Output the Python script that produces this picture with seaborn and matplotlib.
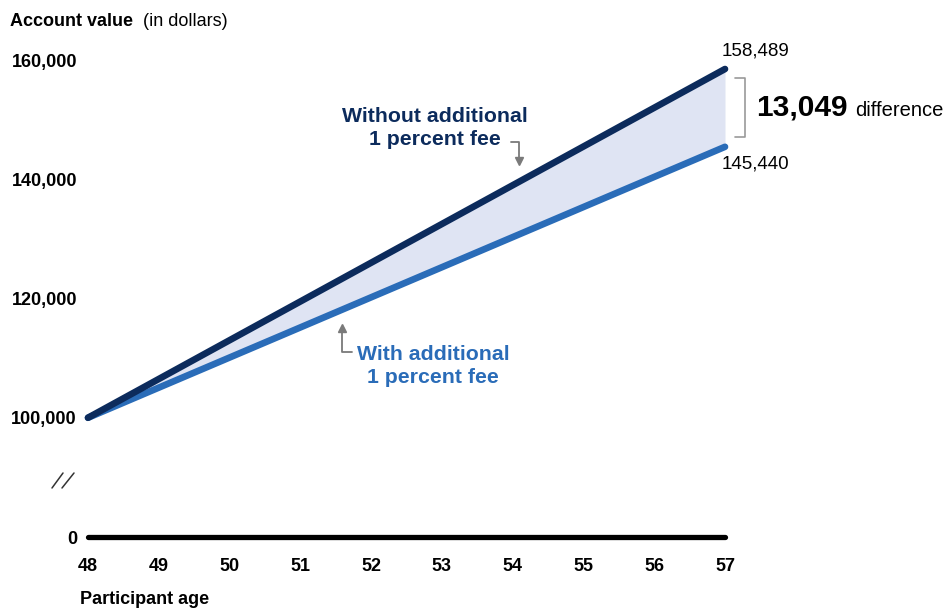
import pandas as pd
import matplotlib.pyplot as plt
import seaborn as sns

ages = [48, 49, 50, 51, 52, 53, 54, 55, 56, 57]
without_fee = [100000, 106499, 112998, 119496, 125995, 132494, 138993, 145491, 151990, 158489]
with_fee = [100000, 105049, 110098, 115147, 120196, 125244, 130293, 135342, 140391, 145440]
y_ticks = [80000, 100000, 120000, 140000, 160000]
y_labels = ['0', '100,000', '120,000', '140,000', '160,000']

navy = '#0c2b5c'
blue = '#2a6cb8'
fill_col = '#dfe4f3'
grey = '#7a7a7a'

sns.set_style('white')
plt.rcParams['font.family'] = ['Liberation Sans', 'DejaVu Sans']
plt.rcParams['text.color'] = 'black'
plt.rcParams['xtick.color'] = 'black'
plt.rcParams['ytick.color'] = 'black'

df = pd.DataFrame({'age': ages + ages,
                   'value': without_fee + with_fee,
                   'series': ['Without'] * len(ages) + ['With'] * len(ages)})

fig = plt.figure(figsize=(9.49, 6.09), dpi=100)
ax = fig.add_axes([88 / 949, (609 - 537) / 609, 637 / 949, 477 / 609])

ax.fill_between(ages, with_fee, without_fee, color=fill_col, lw=0, zorder=1)
sns.lineplot(data=df, x='age', y='value', hue='series',
             palette={'Without': navy, 'With': blue}, hue_order=['With', 'Without'],
             lw=4.8, legend=False, ax=ax, zorder=3)
for ln in ax.lines:
    ln.set_solid_capstyle('round')
    ln.set_clip_on(False)

# baseline at the "0" position (broken axis)
ax.plot([ages[0], ages[-1]], [80000, 80000], color='black', lw=3.8,
        solid_capstyle='round', clip_on=False, zorder=3)

ax.set_xlim(48, 57)
ax.set_ylim(80000, 160000)
ax.set_xticks(ages)
ax.set_xticklabels([str(a) for a in ages], fontsize=13, fontweight='bold')
ax.set_yticks(y_ticks)
ax.set_yticklabels(y_labels, fontsize=13, fontweight='bold')
ax.tick_params(axis='x', length=0, pad=15)
ax.tick_params(axis='y', length=0, pad=8)
for s in ax.spines.values():
    s.set_visible(False)
ax.set_xlabel('')
ax.set_ylabel('')


def fx(px):
    return px / 949


def fy(py):
    return 1 - py / 609


# axis break marks
fig.add_artist(plt.Line2D([fx(52), fx(63)], [fy(488), fy(473)], color='#333333', lw=1.1))
fig.add_artist(plt.Line2D([fx(62), fx(74)], [fy(488), fy(473)], color='#333333', lw=1.1))

# titles
fig.text(fx(10), fy(22), 'Account value', fontsize=13, fontweight='bold',
         va='center', ha='left')
fig.text(fx(143), fy(22), '(in dollars)', fontsize=13, va='center', ha='left')
fig.text(fx(80), fy(599), 'Participant age', fontsize=13, fontweight='bold',
         va='center', ha='left')

# line annotations
fig.text(fx(528), fy(128), 'Without additional\n1 percent fee', fontsize=15.3,
         fontweight='bold', color=navy, ha='right', va='center', linespacing=1.28,
         multialignment='center')
fig.text(fx(357), fy(366), 'With additional\n1 percent fee', fontsize=15.3,
         fontweight='bold', color=blue, ha='left', va='center', linespacing=1.28,
         multialignment='center')

# arrows
fig.add_artist(plt.Line2D([fx(511), fx(519), fx(519)], [fy(142), fy(142), fy(158)],
                          color=grey, lw=1.3))
fig.add_artist(plt.Line2D([fx(519)], [fy(161)], marker='v', color=grey, ms=6, lw=0))
fig.add_artist(plt.Line2D([fx(352), fx(342), fx(342)], [fy(352), fy(352), fy(331)],
                          color=grey, lw=1.3))
fig.add_artist(plt.Line2D([fx(342)], [fy(328)], marker='^', color=grey, ms=6, lw=0))

# difference bracket
fig.add_artist(plt.Line2D([fx(735), fx(745), fx(745), fx(735)],
                          [fy(78), fy(78), fy(137), fy(137)], color='#999999', lw=1.2))
fig.text(fx(756), fy(108), '13,049', fontsize=21.5, fontweight='bold', ha='left', va='center')
fig.text(fx(855), fy(111), 'difference', fontsize=14.5, ha='left', va='center')

# end values
fig.text(fx(722), fy(51), '158,489', fontsize=13.5, ha='left', va='center')
fig.text(fx(722), fy(164), '145,440', fontsize=13.5, ha='left', va='center')

plt.savefig('out.png', dpi=100)
